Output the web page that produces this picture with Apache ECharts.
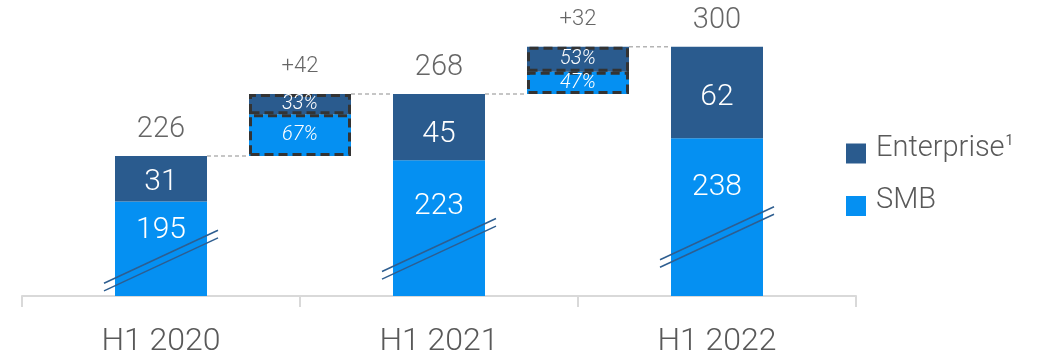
<!DOCTYPE html>
<html><head><meta charset="utf-8">
<script src="https://cdn.jsdelivr.net/npm/echarts@6/dist/echarts.min.js"></script>
<style>html,body{margin:0;padding:0;background:#fff}#c{width:1053px;height:359px}</style>
</head><body><div id="c"></div>
<script>
// ---- DATA ----
const categories = ['H1 2020', 'H1 2021', 'H1 2022'];
const smb = [195, 223, 238];
const enterprise = [31, 45, 62];
const deltaSmbShare = [67, 47];   // % of period growth from SMB
const deltaEntShare = [33, 53];   // % of period growth from Enterprise
const breakValues = [155, 163, 171]; // axis value where the broken-axis mark sits

// ---- STYLE ----
const C_ENT = '#2A5B8E', C_SMB = '#0590F2';
const FONT = 'Roboto';
const MAIN_W = 92, DELTA_W = 102;
const smbLabelDist = [13.5, 31, 34.5];
const entLabelDist = [11.3, 26, 35.5];
const OUTLINE = { color: 'rgba(0,0,0,0)', borderColor: '#333', borderWidth: 3, borderType: [9, 5] };

const totals = smb.map((v, i) => v + enterprise[i]);
const deltas = totals.slice(1).map((t, i) => t - totals[i]);
const slots = ['H1 2020', 'g1', 'H1 2021', 'g2', 'H1 2022'];
const mainSlot = f => slots.map((_, j) => j % 2 === 0 ? f(j / 2) : '-');
const deltaSlot = f => slots.map((_, j) => j % 2 === 1 ? f((j - 1) / 2) : '-');
const dSmb = deltaSlot(k => deltas[k] * deltaSmbShare[k] / 100);
const dEnt = deltaSlot(k => deltas[k] * deltaEntShare[k] / 100);
const dBase = deltaSlot(k => totals[k]);

const connectors = [];
for (let i = 0; i < deltas.length; i++) {
  connectors.push([2 * i, totals[i]]);
  connectors.push([2 * i + 1, totals[i + 1]]);
}

const pctLabel = shares => ({ show: true, position: 'inside', color: '#fff', fontSize: 20, fontStyle: 'italic',
  fontFamily: FONT, fontWeight: 300, formatter: p => shares[(p.dataIndex - 1) / 2] + '%' });

const chart = echarts.init(document.getElementById('c'));
chart.setOption({
  animation: false,
  textStyle: { fontFamily: FONT },
  legend: {
    data: ['Enterprise', 'SMB'],
    orient: 'vertical', left: 846, top: 134, padding: 0,
    itemWidth: 20, itemHeight: 20, itemGap: 23, icon: 'rect',
    itemStyle: { borderWidth: 0 },
    formatter: n => n === 'Enterprise' ? '{a|Enterprise}{s|1}' : '{a|' + n + '}',
    textStyle: {
      padding: [0, 0, 10, 5],
      rich: {
        a: { fontSize: 29, color: '#595959', fontFamily: FONT, fontWeight: 300 },
        s: { fontSize: 14, color: '#595959', fontFamily: FONT, verticalAlign: 'top', padding: [0, 0, 0, 1] }
      }
    }
  },
  grid: [
    { left: 22, right: 197, top: 1, bottom: 63 },
    { left: 91.5, width: 695, top: 1, bottom: 63 }
  ],
  xAxis: [
    { type: 'category', gridIndex: 0, data: categories,
      axisLine: { lineStyle: { color: '#D9D9D9', width: 2 } },
      axisTick: { show: true, length: 11, interval: 0, lineStyle: { color: '#D9D9D9', width: 2 } },
      axisLabel: { fontSize: 32, color: '#595959', margin: 30, fontFamily: FONT, fontWeight: 300 } },
    { type: 'category', gridIndex: 1, data: slots, show: false },
    { type: 'category', gridIndex: 1, data: slots, show: false },
    { type: 'category', gridIndex: 1, data: slots, show: false }
  ],
  yAxis: [
    { type: 'value', gridIndex: 0, min: 131, max: 331, show: false },
    { type: 'value', gridIndex: 1, min: 131, max: 331, show: false }
  ],
  series: [
    { type: 'custom', name: 'conn', xAxisIndex: 1, yAxisIndex: 1, z: 1, silent: true,
      data: connectors,
      renderItem: (params, api) => {
        const i = api.value(0), lv = api.value(1);
        const a = api.coord([i, lv]), b = api.coord([i + 1, lv]);
        const hw = k => (k % 2 === 0 ? MAIN_W : DELTA_W) / 2;
        return { type: 'line', shape: { x1: a[0] + hw(i), y1: a[1], x2: b[0] - hw(i + 1), y2: b[1] },
          style: { stroke: '#B4B4B4', lineWidth: 1.5, lineDash: [4, 3] } };
      } },
    { type: 'bar', name: 'SMB', xAxisIndex: 1, yAxisIndex: 1, stack: 'm', barWidth: MAIN_W,
      itemStyle: { color: C_SMB },
      label: { show: true, position: 'insideTop', color: '#fff', fontSize: 30, fontFamily: FONT, fontWeight: 300 },
      data: mainSlot(k => ({ value: smb[k], label: { distance: smbLabelDist[k] } })) },
    { type: 'bar', name: 'Enterprise', xAxisIndex: 1, yAxisIndex: 1, stack: 'm', barWidth: MAIN_W,
      itemStyle: { color: C_ENT },
      label: { show: true, position: 'insideTop', color: '#fff', fontSize: 30, fontFamily: FONT, fontWeight: 300 },
      data: mainSlot(k => ({ value: enterprise[k], label: { distance: entLabelDist[k] } })) },
    // growth bars: fills
    { type: 'bar', name: 'base', xAxisIndex: 2, yAxisIndex: 1, stack: 'd', barWidth: DELTA_W, silent: true,
      itemStyle: { color: 'rgba(0,0,0,0)' }, data: dBase },
    { type: 'bar', name: 'SMB', xAxisIndex: 2, yAxisIndex: 1, stack: 'd', barWidth: DELTA_W,
      itemStyle: { color: C_SMB }, data: dSmb },
    { type: 'bar', name: 'Enterprise', xAxisIndex: 2, yAxisIndex: 1, stack: 'd', barWidth: DELTA_W,
      itemStyle: { color: C_ENT }, data: dEnt },
    // growth bars: dashed outlines + labels
    { type: 'bar', name: 'obase', xAxisIndex: 3, yAxisIndex: 1, stack: 'o', barWidth: DELTA_W, silent: true,
      itemStyle: { color: 'rgba(0,0,0,0)' }, data: dBase },
    { type: 'bar', name: 'oSMB', xAxisIndex: 3, yAxisIndex: 1, stack: 'o', barWidth: DELTA_W, silent: true, z: 3,
      itemStyle: OUTLINE, label: pctLabel(deltaSmbShare), data: dSmb },
    { type: 'bar', name: 'oEnt', xAxisIndex: 3, yAxisIndex: 1, stack: 'o', barWidth: DELTA_W, silent: true, z: 3,
      itemStyle: OUTLINE, label: pctLabel(deltaEntShare), data: dEnt },
    { type: 'scatter', name: 'total', xAxisIndex: 1, yAxisIndex: 1, symbolSize: 1, silent: true,
      itemStyle: { color: 'rgba(0,0,0,0)' },
      label: { show: true, position: 'top', distance: 11, color: '#404040', fontSize: 29, fontFamily: FONT, fontWeight: 300 },
      data: mainSlot(k => totals[k]) },
    { type: 'scatter', name: 'delta', xAxisIndex: 2, yAxisIndex: 1, symbolSize: 1, silent: true,
      itemStyle: { color: 'rgba(0,0,0,0)' },
      label: { show: true, position: 'top', distance: 16, color: '#404040', fontSize: 22, fontFamily: FONT, fontWeight: 300,
        formatter: p => '+' + deltas[(p.dataIndex - 1) / 2] },
      data: deltaSlot(k => totals[k + 1]) },
    { type: 'custom', name: 'breaks', xAxisIndex: 1, yAxisIndex: 1, z: 10, silent: true,
      data: breakValues.map((v, k) => [2 * k, v]),
      renderItem: (params, api) => {
        const p = api.coord([api.value(0), api.value(1)]);
        const hx = 57, hy = 26.5;
        const mk = off => ({ type: 'line', shape: { x1: p[0] - hx, y1: p[1] + hy + off, x2: p[0] + hx, y2: p[1] - hy + off },
          style: { stroke: '#2E5E90', lineWidth: 1.5 } });
        return { type: 'group', children: [mk(-3.8), mk(3.8)] };
      } }
  ]
});
</script></body></html>
